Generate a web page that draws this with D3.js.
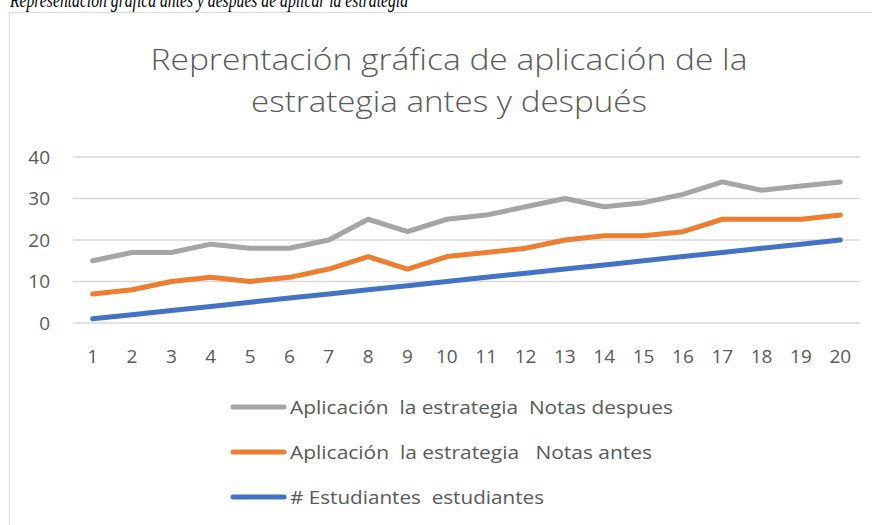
<!DOCTYPE html>
<html>
<head>
<meta charset="utf-8">
<script src="https://cdn.jsdelivr.net/npm/d3@7"></script>
<style>
  body { margin: 0; background: #fff; }
  svg { display: block; }
  text { white-space: pre; }
</style>
</head>
<body>
<div id="chart"></div>
<script>
// data
const students = d3.range(1, 21);
const notasDespues = [15, 17, 17, 19, 18, 18, 20, 25, 22, 25, 26, 28, 30, 28, 29, 31, 34, 32, 33, 34];
const notasAntes = [7, 8, 10, 11, 10, 11, 13, 16, 13, 16, 17, 18, 20, 21, 21, 22, 25, 25, 25, 26];
const estudiantes = [1, 2, 3, 4, 5, 6, 7, 8, 9, 10, 11, 12, 13, 14, 15, 16, 17, 18, 19, 20];
const yTicks = [0, 10, 20, 30, 40];

const series = [
  { name: "# Estudiantes  estudiantes", values: estudiantes, color: "#4472c4" },
  { name: "Aplicación  la estrategia   Notas antes", values: notasAntes, color: "#ed7d31" },
  { name: "Aplicación  la estrategia  Notas despues", values: notasDespues, color: "#a5a5a5" }
];

const width = 872, height = 525;
const svg = d3.select("#chart").append("svg")
  .attr("width", width)
  .attr("height", height);

const font = "'Open Sans', 'Noto Sans', sans-serif";
const textColor = "#595959";

// squeeze a text to a target width (Calibri is narrower than what we have)
function fit(sel, w) {
  sel.each(function () {
    const len = this.getComputedTextLength();
    if (len > 0) d3.select(this).attr("textLength", w).attr("lengthAdjust", "spacingAndGlyphs");
  });
}

// chart frame
svg.append("rect")
  .attr("x", 9.5).attr("y", 12.5)
  .attr("width", 880).attr("height", 540)
  .attr("fill", "#fff")
  .attr("stroke", "#d9d9d9")
  .attr("stroke-width", 1);

// caption above the frame (top half is cut off in the source)
svg.append("text")
  .attr("x", 10).attr("y", 7)
  .attr("font-family", "'Liberation Serif', 'DejaVu Serif', serif")
  .attr("font-style", "italic")
  .attr("font-size", 21)
  .attr("fill", "#000")
  .text("Representación gráfica antes y después de aplicar la estrategia")
  .call(fit, 398);

// title
const title = svg.append("g")
  .attr("font-family", font)
  .attr("font-weight", 300)
  .attr("font-size", 30)
  .attr("fill", textColor)
  .attr("text-anchor", "middle");
title.append("text").attr("x", 449).attr("y", 70)
  .text("Reprentación gráfica de aplicación de la")
  .call(fit, 597);
title.append("text").attr("x", 449).attr("y", 112)
  .text("estrategia antes y después")
  .call(fit, 396);

// scales
const x = d3.scaleBand().domain(students).range([73, 860]);
const y = d3.scaleLinear().domain([0, 40]).range([323, 157]);
const cx = d => x(d) + x.bandwidth() / 2;

// gridlines + y axis labels
svg.append("g")
  .selectAll("line")
  .data(yTicks)
  .join("line")
  .attr("x1", 73).attr("x2", 860)
  .attr("y1", d => y(d)).attr("y2", d => y(d))
  .attr("stroke", "#d9d9d9")
  .attr("stroke-width", 1.3);

svg.append("g")
  .attr("font-family", font)
  .attr("font-size", 19)
  .attr("fill", textColor)
  .attr("text-anchor", "end")
  .selectAll("text")
  .data(yTicks)
  .join("text")
  .attr("x", 50)
  .attr("y", d => y(d))
  .attr("dy", "0.35em")
  .text(d => d);

// x axis labels
svg.append("g")
  .attr("font-family", font)
  .attr("font-size", 19)
  .attr("fill", textColor)
  .attr("text-anchor", "middle")
  .selectAll("text")
  .data(students)
  .join("text")
  .attr("x", d => cx(d))
  .attr("y", 356)
  .attr("dy", "0.35em")
  .text(d => d);

// lines
const line = d3.line()
  .x((d, i) => cx(students[i]))
  .y(d => y(d));

svg.append("g")
  .selectAll("path")
  .data(series)
  .join("path")
  .attr("d", d => line(d.values))
  .attr("fill", "none")
  .attr("stroke", d => d.color)
  .attr("stroke-width", 5)
  .attr("stroke-linecap", "round")
  .attr("stroke-linejoin", "round");

// legend (reverse order, despues on top)
const legendItems = series.slice().reverse();
const legendWidths = [383, 362, 254];
const legend = svg.append("g")
  .selectAll("g")
  .data(legendItems)
  .join("g")
  .attr("transform", (d, i) => `translate(0, ${407 + i * 45})`);

legend.append("line")
  .attr("x1", 233).attr("x2", 284)
  .attr("stroke", d => d.color)
  .attr("stroke-width", 5)
  .attr("stroke-linecap", "round");

legend.append("text")
  .attr("x", 290)
  .attr("dy", "0.35em")
  .attr("font-family", font)
  .attr("font-size", 19)
  .attr("fill", textColor)
  .text(d => d.name)
  .each(function (d, i) { d3.select(this).call(fit, legendWidths[i]); });
</script>
</body>
</html>
